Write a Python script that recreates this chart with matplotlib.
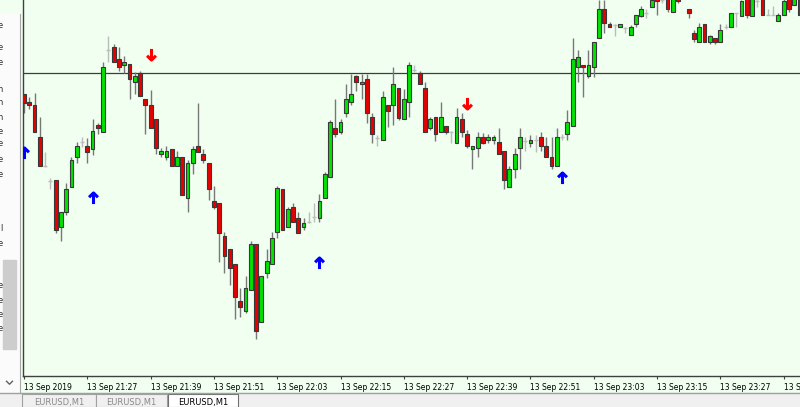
import numpy as np
import matplotlib
matplotlib.use('Agg')
import matplotlib.pyplot as plt
from matplotlib.path import Path
from matplotlib.patches import Rectangle
from matplotlib.lines import Line2D

# ---- data (EURUSD M1, price in points) ----
opens = [306, 298, 295, 263, 234, 219, 220, 173, 188, 213,
         243, 258, 254, 251, 275, 268, 350, 353, 341, 335,
         336, 318, 327, 301, 295, 281, 246, 243, 251, 234,
         243, 202, 237, 254, 246, 237, 199, 197, 164, 151,
         136, 99, 89, 110, 156, 78, 127, 136, 168, 211,
         173, 193, 182, 173, 178, 183, 182, 202, 223, 272,
         268, 287, 298, 324, 316, 321, 283, 262, 260, 295,
         295, 312, 281, 298, 330, 327, 312, 272, 283, 268,
         274, 268, 257, 281, 266, 251, 252, 263, 260, 260,
         258, 249, 213, 231, 252, 259, 257, 260, 263, 254,
         243, 234, 263, 266, 274, 333, 335, 324, 333, 362,
         391, 376, 375, 373, 372, 365, 376, 384, 387, 393,
         402, 400, 402, 388, 403, 410, 391, 367, 358, 376,
         358, 362, 358, 373, 373, 387, 384, 402, 384, 399,
         403, 385, 385, 379, 385, 402, 395, 402]
highs = [306, 303, 307, 283, 248, 222, 220, 188, 217, 243,
         258, 263, 262, 281, 277, 338, 364, 356, 353, 344,
         336, 328, 329, 301, 310, 281, 252, 254, 251, 249,
         243, 240, 254, 297, 251, 237, 214, 197, 168, 151,
         136, 112, 124, 159, 156, 124, 151, 168, 214, 211,
         193, 197, 188, 182, 188, 197, 206, 228, 280, 301,
         281, 316, 326, 325, 326, 326, 287, 265, 309, 295,
         333, 312, 311, 338, 335, 329, 318, 283, 283, 298,
         274, 269, 292, 287, 270, 254, 268, 267, 266, 265,
         272, 249, 234, 252, 272, 263, 265, 265, 268, 263,
         263, 272, 266, 290, 362, 350, 335, 350, 358, 400,
         400, 378, 376, 376, 373, 375, 385, 394, 391, 403,
         405, 403, 405, 405, 406, 414, 391, 370, 377, 376,
         365, 362, 376, 376, 387, 387, 400, 404, 404, 403,
         405, 391, 394, 387, 402, 404, 402, 404]
lows = [287, 291, 268, 234, 233, 211, 167, 159, 185, 213,
        237, 253, 237, 245, 266, 268, 338, 338, 329, 327,
        301, 306, 304, 266, 272, 246, 243, 240, 234, 234,
        205, 188, 226, 248, 237, 200, 191, 138, 127, 115,
        81, 83, 87, 110, 61, 78, 122, 136, 162, 170,
        173, 178, 167, 170, 177, 178, 178, 202, 223, 263,
        266, 283, 295, 309, 301, 277, 257, 254, 260, 273,
        275, 280, 281, 283, 328, 316, 268, 270, 259, 268,
        266, 257, 257, 263, 252, 231, 243, 256, 257, 256,
        246, 211, 213, 222, 231, 249, 253, 248, 249, 243,
        231, 234, 260, 260, 274, 318, 303, 322, 323, 362,
        367, 373, 364, 373, 367, 365, 373, 383, 382, 393,
        385, 397, 388, 388, 397, 404, 382, 358, 358, 358,
        356, 356, 358, 371, 373, 373, 384, 382, 384, 393,
        385, 385, 385, 379, 385, 388, 395, 385]
closes = [297, 295, 268, 234, 234, 219, 170, 188, 211, 240,
          254, 258, 248, 269, 272, 333, 350, 338, 333, 338,
          321, 324, 304, 295, 272, 252, 249, 249, 234, 243,
          205, 237, 251, 248, 240, 211, 193, 167, 144, 132,
          103, 93, 112, 156, 69, 124, 139, 162, 212, 170,
          191, 178, 167, 177, 178, 183, 199, 226, 278, 266,
          278, 301, 306, 318, 318, 287, 266, 262, 303, 289,
          316, 282, 301, 335, 330, 316, 268, 281, 266, 283,
          268, 268, 283, 268, 254, 254, 263, 257, 263, 263,
          246, 220, 231, 246, 263, 259, 260, 260, 254, 243,
          234, 263, 263, 278, 341, 343, 333, 335, 358, 391,
          377, 373, 375, 376, 372, 373, 385, 391, 387, 400,
          399, 400, 391, 403, 399, 406, 387, 361, 373, 358,
          364, 358, 370, 373, 387, 387, 399, 385, 401, 399,
          385, 385, 385, 385, 399, 391, 402, 385]

level_line = 327

buy_idx = [0, 13, 56, 102]
buy_val = [247, 202, 137, 222]
sell_idx = [24, 84]
sell_val = [346, 297]

tick_pos = [0, 12, 24, 36, 48, 60, 72, 84, 96, 108, 120, 132, 144]
tick_labels = ["13 Sep 2019", "13 Sep 21:27", "13 Sep 21:39", "13 Sep 21:51",
               "13 Sep 22:03", "13 Sep 22:15", "13 Sep 22:27", "13 Sep 22:39",
               "13 Sep 22:51", "13 Sep 23:03", "13 Sep 23:15", "13 Sep 23:27",
               "13 Sep 23:39"]
tab_names = ["EURUSD,M1", "EURUSD,M1", "EURUSD,M1"]

# ---- figure ----
W, H = 800, 407
BG = '#f0fff0'
fig = plt.figure(figsize=(W / 100, H / 100), dpi=100, facecolor=BG)

ax = fig.add_axes([23 / W, (H - 376) / H, (W - 23) / W, 376 / H])
ax.set_facecolor(BG)

o = np.array(opens, float)
h = np.array(highs, float)
l = np.array(lows, float)
c = np.array(closes, float)
idx = np.arange(len(o))
up = c > o
dn = c < o
dj = c == o

ax.vlines(idx[~dj], l[~dj], h[~dj], color='#787878', lw=1.0, zorder=2)
ax.bar(idx[up], (c - o)[up], bottom=o[up], width=0.72, color='#00e400',
       edgecolor='#383838', linewidth=0.8, zorder=3)
ax.bar(idx[dn], (o - c)[dn], bottom=c[dn], width=0.72, color='#e80000',
       edgecolor='#383838', linewidth=0.8, zorder=3)
ax.vlines(idx[dj], l[dj], h[dj], color='#bcbcbc', lw=1.0, zorder=2)
ax.hlines(o[dj], idx[dj] - 0.38, idx[dj] + 0.38, color='#bcbcbc', lw=1.0, zorder=2)

ax.axhline(level_line, color='#3c3c3c', lw=0.9, zorder=1)

up_arrow = Path([(0, -1), (0, 1), (-0.8, 0.22), (0, 1), (0.8, 0.22)],
                [Path.MOVETO, Path.LINETO, Path.MOVETO, Path.LINETO, Path.LINETO])
dn_arrow = Path([(0, 1), (0, -1), (-0.8, -0.22), (0, -1), (0.8, -0.22)],
                [Path.MOVETO, Path.LINETO, Path.MOVETO, Path.LINETO, Path.LINETO])
ax.plot(buy_idx, buy_val, ls='none', marker=up_arrow, ms=8, mfc='none',
        mec='#0000ff', mew=2.2, zorder=5)
ax.plot(sell_idx, sell_val, ls='none', marker=dn_arrow, ms=8, mfc='none',
        mec='#ff0000', mew=2.2, zorder=5)

ax.set_xlim(-0.19, 147.1)
ax.set_ylim(24, 400)
ax.set_yticks([])
ax.set_xticks(tick_pos)
ax.set_xticklabels(tick_labels, ha='left', fontsize=5.5, color='black',
                   family='DejaVu Sans')
ax.tick_params(axis='x', length=2.5, width=0.8, color='#404040', pad=2.5)
for s in ['top', 'right']:
    ax.spines[s].set_visible(False)
for s in ['left', 'bottom']:
    ax.spines[s].set_color('#404040')
    ax.spines[s].set_linewidth(1.0)

# ---- left side panel ----
axl = fig.add_axes([0, 14 / H, 20 / W, 379 / H])
axl.set_facecolor('#fbfbfb')
axl.set_xlim(0, 20)
axl.set_ylim(393, 0)
axl.set_xticks([])
axl.set_yticks([])
for s in ['top', 'left', 'bottom']:
    axl.spines[s].set_visible(False)
axl.spines['right'].set_color('#a8a8a8')
axl.add_patch(Rectangle((3, 255), 13, 92, color='#cdcdcd', zorder=1))
frag = [(12, 'e'), (35, 'e'), (50, 'e'), (78, 'n'), (92, 'n'), (107, 'n'),
        (122, 'e'), (134, 'e'), (151, 'e'), (166, 'e'), (222, 'l'), (238, 'e'),
        (282, 'e'), (297, 'e'), (312, 'e'), (326, 'e')]
for yy, ch in frag:
    axl.text(3.0, yy, ch, ha='right', va='center', fontsize=6, color='#303030',
             clip_on=True, zorder=3)
chev = Path([(-1, 0.5), (0, -0.5), (1, 0.5)], [Path.MOVETO, Path.LINETO, Path.LINETO])
axl.plot([9], [382], marker=chev, ms=5, mfc='none', mec='#606060', mew=1.0)

# ---- bottom tab bar ----
fig.add_artist(Rectangle((0, 0), 1, 14 / H, transform=fig.transFigure,
                         color='#f0f0f0', zorder=0))
fig.add_artist(Line2D([0, 1], [14 / H, 14 / H], transform=fig.transFigure,
                      color='#a0a0a0', lw=1.0))
tabs = [(22, 96), (96, 167), (168, 238)]
for k, ((x0, x1), name) in enumerate(zip(tabs, tab_names)):
    active = (k == len(tabs) - 1)
    fig.add_artist(Rectangle((x0 / W, 0), (x1 - x0) / W, 13 / H,
                             transform=fig.transFigure,
                             facecolor='white' if active else '#f0f0f0',
                             edgecolor='#a0a0a0' if not active else '#707070',
                             lw=0.8, zorder=1))
    fig.text((x0 + x1) / 2 / W, 4.5 / H, name, ha='center', va='center',
             fontsize=6, color='black' if active else '#8a8a8a', zorder=2)

fig.savefig('out.png', dpi=100, facecolor=fig.get_facecolor())
